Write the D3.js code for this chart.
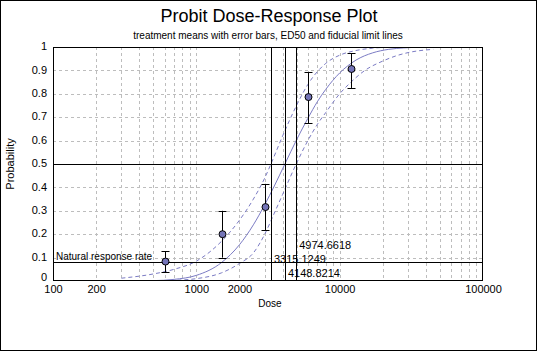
<!DOCTYPE html>
<html>
<head>
<meta charset="utf-8">
<script src="https://cdn.jsdelivr.net/npm/d3@7"></script>
<style>
  body { margin: 0; background: #fff; }
  svg { display: block; font-family: Arial, "Liberation Sans", sans-serif; }
</style>
</head>
<body>
<svg id="chart"></svg>
<script>
const width = 538, height = 352;
const margin = { top: 47, right: 55, bottom: 71, left: 53 };
const plotWidth = width - margin.left - margin.right;
const plotHeight = height - margin.top - margin.bottom;

// Axis ticks
const xTickLabels = [100, 200, 1000, 2000, 10000, 100000];
const xGridValues = [200, 300, 400, 500, 600, 700, 800, 900, 1000,
    2000, 3000, 4000, 5000, 6000, 7000, 8000, 9000, 10000,
    20000, 30000, 40000, 50000, 60000, 70000, 80000, 90000];
const yTickLabels = [0, 0.1, 0.2, 0.3, 0.4, 0.5, 0.6, 0.7, 0.8, 0.9, 1];

// Treatment means with error bars
const doses = [600, 1500, 3000, 6000, 12000];
const meanResponse = [0.083, 0.200, 0.316, 0.786, 0.906];
const barLow = [0.038, 0.100, 0.218, 0.675, 0.825];
const barHigh = [0.128, 0.300, 0.415, 0.893, 0.974];

// ED50 and fiducial limits
const ed50Lines = [3315.1249, 4148.8214, 4974.6618];
const ed50Labels = ["3315.1249", "4148.8214", "4974.6618"];
const ed50LabelP = [0.079, 0.019, 0.136];
const naturalRate = 0.081;

// Fitted probit curve
const fitDose = [300, 500, 700, 1000, 1500, 2000, 2500, 3000, 3500, 4148.8, 5000, 6000, 7000, 8000, 10000, 13000, 17000, 22000, 28000, 36000, 45000];
const fitProb = [0.0001, 0.0016, 0.007, 0.024, 0.079, 0.155, 0.24, 0.326, 0.406, 0.5, 0.603, 0.695, 0.767, 0.819, 0.889, 0.944, 0.975, 0.990, 0.996, 0.999, 1.0];

// Fiducial limit curves
const upperDose = [300, 500, 700, 1000, 1500, 2000, 2500, 3000, 3315, 4000, 5000, 6000, 8000, 10000, 13000, 17000, 22000, 30000, 45000];
const upperProb = [0.012, 0.03, 0.05, 0.085, 0.17, 0.26, 0.35, 0.44, 0.5, 0.62, 0.75, 0.84, 0.93, 0.965, 0.985, 0.995, 0.999, 1.0, 1.0];
const lowerDose = [300, 500, 700, 1000, 1500, 2000, 2500, 3000, 3500, 4000, 4974, 6000, 7000, 8000, 10000, 12000, 15000, 20000, 25000, 30000, 45000];
const lowerProb = [0.0, 0.0005, 0.003, 0.01, 0.035, 0.075, 0.12, 0.2, 0.29, 0.37, 0.5, 0.6, 0.67, 0.72, 0.8, 0.85, 0.9, 0.94, 0.963, 0.976, 0.99];

const curveColor = "#7b7bc4";

const svg = d3.select("#chart")
    .attr("width", width)
    .attr("height", height);

// Outer frame
svg.append("rect")
    .attr("x", 0.5).attr("y", 0.5)
    .attr("width", width - 2).attr("height", height - 2)
    .attr("fill", "#fff")
    .attr("stroke", "#000");

const g = svg.append("g").attr("transform", `translate(${margin.left},${margin.top})`);

g.append("defs").append("clipPath").attr("id", "clip")
    .append("rect").attr("width", plotWidth).attr("height", plotHeight);

const xScale = d3.scaleLog().domain([100, 100000]).range([0, plotWidth]);
const yScale = d3.scaleLinear().domain([0, 1]).range([plotHeight, 0]);

// Titles
svg.append("text")
    .attr("x", 269).attr("y", 22)
    .attr("text-anchor", "middle")
    .attr("font-size", "18px")
    .text("Probit Dose-Response Plot");

svg.append("text")
    .attr("x", 268).attr("y", 39)
    .attr("text-anchor", "middle")
    .attr("font-size", "10px")
    .text("treatment means with error bars, ED50 and fiducial limit lines");

// Gridlines
g.append("g")
    .selectAll("line")
    .data(xGridValues)
    .join("line")
    .attr("x1", d => Math.round(xScale(d)) + 0.5)
    .attr("x2", d => Math.round(xScale(d)) + 0.5)
    .attr("y1", 0)
    .attr("y2", plotHeight)
    .attr("stroke", "#bdbdbd")
    .attr("stroke-dasharray", "3,3");

g.append("g")
    .selectAll("line")
    .data(yTickLabels.slice(1, -1))
    .join("line")
    .attr("x1", 0)
    .attr("x2", plotWidth)
    .attr("y1", d => Math.round(yScale(d)) + 0.5)
    .attr("y2", d => Math.round(yScale(d)) + 0.5)
    .attr("stroke", "#bdbdbd")
    .attr("stroke-dasharray", "3,3");

// Axes (labels only, the frame is drawn below)
const xAxis = g.append("g")
    .attr("transform", `translate(0,${plotHeight})`)
    .call(d3.axisBottom(xScale).tickValues(xTickLabels).tickFormat(d3.format("d")).tickSize(0).tickPadding(4));
xAxis.select(".domain").remove();
xAxis.selectAll("text").attr("font-size", "11px").attr("font-family", "Arial, 'Liberation Sans', sans-serif").attr("fill", "#000");

const yAxis = g.append("g")
    .call(d3.axisLeft(yScale).tickValues(yTickLabels).tickFormat(d => d).tickSize(0).tickPadding(6));
yAxis.select(".domain").remove();
yAxis.selectAll("text")
    .attr("font-size", "11px")
    .attr("font-family", "Arial, 'Liberation Sans', sans-serif")
    .attr("fill", "#000")
    .attr("dy", (d, i) => i === 0 ? "-0.05em" : "0.25em");

g.append("text")
    .attr("text-anchor", "middle")
    .attr("x", plotWidth / 2 + 2).attr("y", plotHeight + 26)
    .attr("font-size", "10px")
    .text("Dose");

g.append("text")
    .attr("text-anchor", "middle")
    .attr("transform", `translate(-39,${plotHeight / 2})rotate(-90)`)
    .attr("font-size", "11px")
    .text("Probability");

// Curves
const line = d3.line()
    .x(d => xScale(d[0]))
    .y(d => yScale(d[1]))
    .curve(d3.curveMonotoneX);

const curves = g.append("g").attr("clip-path", "url(#clip)");

curves.append("path")
    .attr("d", line(d3.zip(upperDose, upperProb)))
    .attr("fill", "none")
    .attr("stroke", curveColor)
    .attr("stroke-dasharray", "4,3");

curves.append("path")
    .attr("d", line(d3.zip(lowerDose, lowerProb)))
    .attr("fill", "none")
    .attr("stroke", curveColor)
    .attr("stroke-dasharray", "4,3");

curves.append("path")
    .attr("d", line(d3.zip(fitDose, fitProb)))
    .attr("fill", "none")
    .attr("stroke", curveColor);

// Reference lines: 0.5, natural response rate, ED50 and fiducial limits
g.append("line")
    .attr("x1", 0).attr("x2", plotWidth)
    .attr("y1", Math.round(yScale(0.5)) + 0.5).attr("y2", Math.round(yScale(0.5)) + 0.5)
    .attr("stroke", "#000");

g.append("line")
    .attr("x1", 0).attr("x2", plotWidth)
    .attr("y1", Math.round(yScale(naturalRate)) + 0.5).attr("y2", Math.round(yScale(naturalRate)) + 0.5)
    .attr("stroke", "#000");

g.append("text")
    .attr("x", 3).attr("y", yScale(naturalRate) - 2)
    .attr("font-size", "10px")
    .text("Natural response rate");

g.append("g")
    .selectAll("line")
    .data(ed50Lines)
    .join("line")
    .attr("x1", d => Math.round(xScale(d)) + 0.5)
    .attr("x2", d => Math.round(xScale(d)) + 0.5)
    .attr("y1", 0)
    .attr("y2", plotHeight)
    .attr("stroke", "#000");

g.append("g")
    .selectAll("text")
    .data(ed50Lines)
    .join("text")
    .attr("x", d => xScale(d) + 3)
    .attr("y", (d, i) => yScale(ed50LabelP[i]))
    .attr("font-size", "11px")
    .text((d, i) => ed50Labels[i]);

// Error bars and means
const bars = g.append("g");
doses.forEach((d, i) => {
    const x = Math.round(xScale(d)) + 0.5;
    bars.append("line")
        .attr("x1", x).attr("x2", x)
        .attr("y1", yScale(barLow[i])).attr("y2", yScale(barHigh[i]))
        .attr("stroke", "#000");
    [barLow[i], barHigh[i]].forEach(v => {
        bars.append("line")
            .attr("x1", x - 4).attr("x2", x + 4)
            .attr("y1", Math.round(yScale(v)) + 0.5).attr("y2", Math.round(yScale(v)) + 0.5)
            .attr("stroke", "#000");
    });
});

g.append("g")
    .selectAll("circle")
    .data(doses)
    .join("circle")
    .attr("cx", d => Math.round(xScale(d)) + 0.5)
    .attr("cy", (d, i) => yScale(meanResponse[i]))
    .attr("r", 3.5)
    .attr("fill", "#7474b8")
    .attr("stroke", "#000");

// Plot frame
g.append("rect")
    .attr("x", 0.5).attr("y", 0.5)
    .attr("width", plotWidth - 1).attr("height", plotHeight - 1)
    .attr("fill", "none")
    .attr("stroke", "#000");
</script>
</body>
</html>
